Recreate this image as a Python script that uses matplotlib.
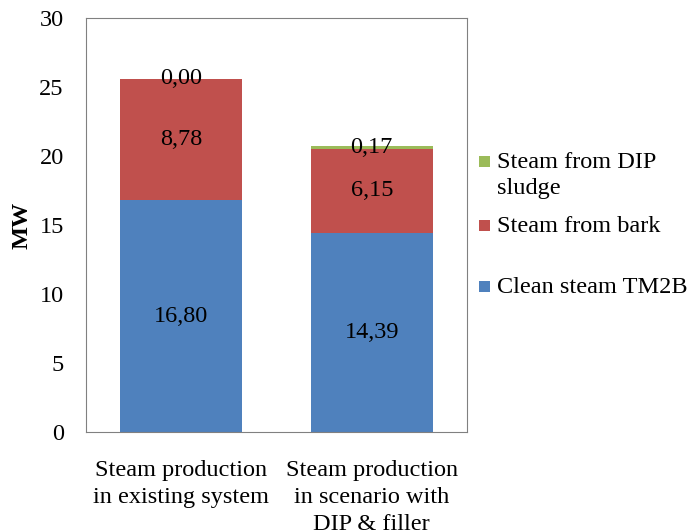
import matplotlib.pyplot as plt
from matplotlib.patches import Rectangle

plt.rcParams['font.family'] = ['Liberation Serif', 'DejaVu Serif']

# stacked steam production, MW
categories = ['Steam production\nin existing system',
              'Steam production\nin scenario with\nDIP & filler']
clean_steam = [16.80, 14.39]
bark_steam = [8.78, 6.15]
sludge_steam = [0.00, 0.17]
labels = ['Clean steam TM2B', 'Steam from bark', 'Steam from DIP\nsludge']
colors = ['#4F81BD', '#C0504D', '#9BBB59']

fs = 17.5
fig = plt.figure(figsize=(6.87, 5.32), dpi=100)
ax = fig.add_axes([86 / 687, 1 - 432 / 532, (467 - 86) / 687, (432 - 18) / 532])

x = range(len(categories))
w = 0.64
bottom = [0.0, 0.0]
for vals, lab, col in zip([clean_steam, bark_steam, sludge_steam], labels, colors):
    ax.bar(x, vals, w, bottom=bottom, color=col, label=lab, zorder=2)
    for xi, v, bt in zip(x, vals, bottom):
        ax.text(xi, bt + v / 2, f'{v:.2f}'.replace('.', ','), ha='center', va='center',
                fontsize=fs, zorder=3)
    bottom = [bt + v for bt, v in zip(bottom, vals)]

ax.set_xlim(-0.5, 1.5)
ax.set_ylim(0, 30)
ax.set_yticks(range(0, 31, 5))
ax.set_xticks(list(x))
ax.set_xticklabels(categories, fontsize=fs, linespacing=1.35)
ax.tick_params(axis='both', length=0, labelsize=fs)
ax.tick_params(axis='x', pad=20.5)
ax.tick_params(axis='y', pad=16)
for s in ax.spines.values():
    s.set_color('#808080')
ax.set_ylabel('MW', fontsize=fs, fontweight='bold', labelpad=5)

# legend, top entry first; marker sits on the first text line
leg_y = [286, 225, 161]
for lab, col, yp in zip(labels, colors, leg_y):
    fig.add_artist(Rectangle((479 / 687, 1 - (yp + 5.5) / 532), 11 / 687, 11 / 532,
                             facecolor=col, edgecolor='none', transform=fig.transFigure))
    fig.text(497 / 687, 1 - (yp - 9) / 532, lab, fontsize=fs, va='top', ha='left',
             linespacing=1.3)

fig.savefig('out.png', dpi=100)
